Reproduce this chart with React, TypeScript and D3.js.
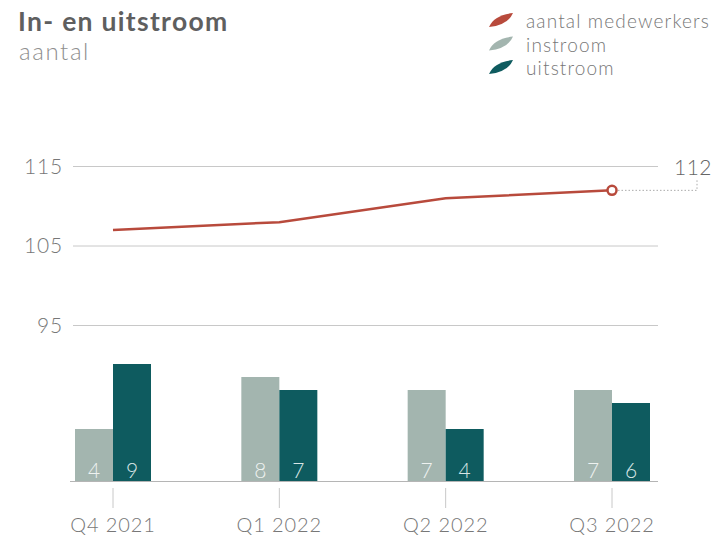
import React from "react";
import * as d3 from "d3";

const categories = ["Q4 2021", "Q1 2022", "Q2 2022", "Q3 2022"];
const medewerkers = [107, 108, 111, 112];
const instroom = [4, 8, 7, 7];
const uitstroom = [9, 7, 4, 6];
const yTicks = [95, 105, 115];

const legendItems = [
  { label: "aantal medewerkers", color: "#b84a3c" },
  { label: "instroom", color: "#a3b5af" },
  { label: "uitstroom", color: "#0e5b5f" },
];

const FONT = "Lato, 'Open Sans', sans-serif";

export default function App() {
  const W = 715, H = 540;
  const x = d3.scalePoint<string>().domain(categories).range([113, 612]);
  const yLine = d3.scaleLinear().domain([95, 115]).range([325.5, 166.5]);
  const yBar = d3.scaleLinear().domain([0, 9]).range([481, 364]);
  const barW = 38;

  const line = d3
    .line<number>()
    .x((_, i) => x(categories[i])!)
    .y((d) => yLine(d))
    .curve(d3.curveLinear);

  const lastX = x(categories[categories.length - 1])!;
  const lastY = yLine(medewerkers[medewerkers.length - 1]);

  const leaf = (cx: number, cy: number) =>
    `M${cx - 12},${cy + 7} Q${cx - 7},${cy - 5} ${cx + 12},${cy - 7} Q${cx + 7},${cy + 5} ${cx - 12},${cy + 7} Z`;

  return (
    <svg width={W} height={H} style={{ position: "absolute", left: 0, top: 0 }} fontFamily={FONT}>
      <text x={18} y={31} fontSize={26.5} fontWeight={700} letterSpacing={1.3} fill="#5f5f5f">In- en uitstroom</text>
      <text x={19} y={60} fontSize={24} fontWeight={300} letterSpacing={1.6} fill="#8f8f8f">aantal</text>

      {legendItems.map((d, i) => (
        <g key={d.label}>
          <path d={leaf(501, 20 + i * 23.5)} fill={d.color} />
          <text x={526} y={28 + i * 23.5} fontSize={19} fontWeight={300} letterSpacing={1.15} fill="#777">{d.label}</text>
        </g>
      ))}

      {yTicks.map((t) => (
        <g key={t}>
          <line x1={73} x2={658} y1={yLine(t)} y2={yLine(t)} stroke="#c8c8c8" strokeWidth={1} />
          <text x={63} y={yLine(t) + 7} textAnchor="end" fontSize={21} fontWeight={300} letterSpacing={0.8} fill="#777">{t}</text>
        </g>
      ))}

      {categories.map((c, i) => {
        const cx = x(c)!;
        return (
          <g key={c}>
            <rect x={cx - barW} y={yBar(instroom[i])} width={barW} height={yBar(0) - yBar(instroom[i])} fill="#a3b5af" />
            <rect x={cx} y={yBar(uitstroom[i])} width={barW} height={yBar(0) - yBar(uitstroom[i])} fill="#0e5b5f" />
            <text x={cx - barW / 2} y={478} textAnchor="middle" fontSize={21} fontWeight={300} fill="#eef2f0">{instroom[i]}</text>
            <text x={cx + barW / 2} y={478} textAnchor="middle" fontSize={21} fontWeight={300} fill="#d9e6e6">{uitstroom[i]}</text>
            <line x1={cx} x2={cx} y1={488} y2={508} stroke="#c8c8c8" strokeWidth={1} />
            <text x={cx} y={532} textAnchor="middle" fontSize={20} fontWeight={300} letterSpacing={0.9} fill="#777">{c}</text>
          </g>
        );
      })}
      <line x1={70} x2={658} y1={481.5} y2={481.5} stroke="#b5b5b5" strokeWidth={1} />

      <path d={line(medewerkers) || ""} fill="none" stroke="#b84a3c" strokeWidth={2.5} />
      <path
        d={`M${lastX + 6},${lastY} H${697} V${180}`}
        fill="none"
        stroke="#aaa"
        strokeWidth={1}
        strokeDasharray="1.5,2"
      />
      <circle cx={lastX} cy={lastY} r={4.5} fill="#fff" stroke="#b84a3c" strokeWidth={2.5} />
      <text x={712} y={175} textAnchor="end" fontSize={21} fontWeight={300} letterSpacing={0.5} fill="#666">{medewerkers[medewerkers.length - 1]}</text>
    </svg>
  );
}
